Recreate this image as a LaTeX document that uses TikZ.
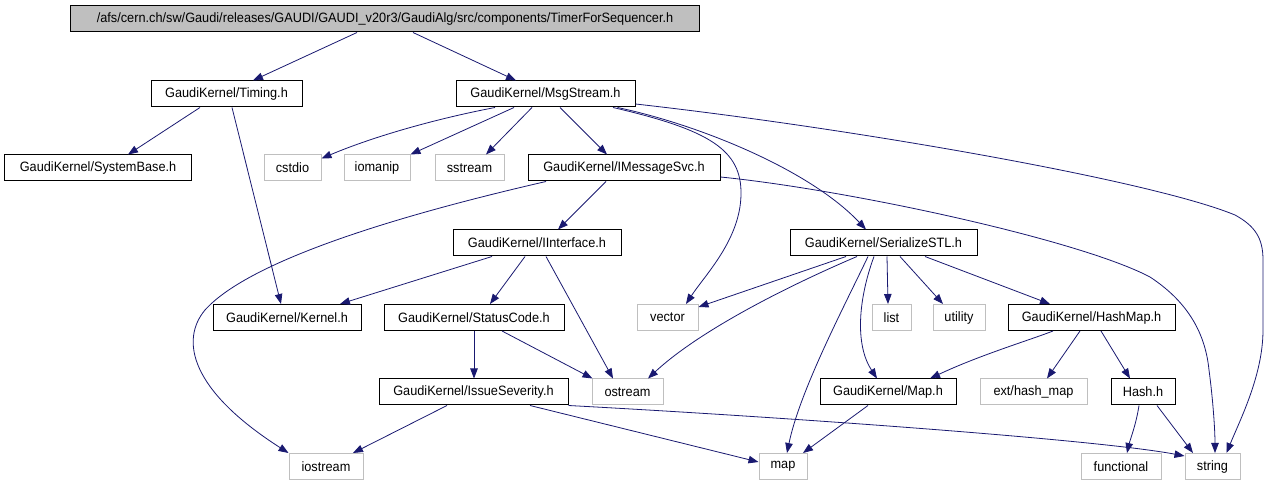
\documentclass[tikz,border=0pt]{standalone}
\usepackage{fontspec}
\setmainfont{Liberation Sans}[FakeStretch=0.94]
\usepackage{tikz}
\usetikzlibrary{arrows.meta}

\definecolor{edgeblue}{HTML}{191970}
\definecolor{sysgray}{HTML}{BFBFBF}

\begin{document}
\begin{tikzpicture}[x=1bp, y=-1bp,
        hdr/.style={draw=black, line width=1bp, minimum height=26bp, inner sep=0pt, font=\fontsize{13.6}{15}\selectfont},
        sys/.style={hdr, draw=sysgray},
        dep/.style={draw=edgeblue, line width=0.8bp, -{Triangle[length=10bp,width=7.5bp]}}]
        \useasboundingbox (0,0) rectangle (1268,485);

        % Headers
        \node[hdr, fill=sysgray, minimum width=628bp] (root) at (385,19) {/afs/cern.ch/sw/Gaudi/releases/GAUDI/GAUDI\_v20r3/GaudiAlg/src/components/TimerForSequencer.h};
        \node[hdr, minimum width=151bp] (timing) at (226.5,94) {GaudiKernel/Timing.h};
        \node[hdr, minimum width=179bp] (msg) at (545.5,94) {GaudiKernel/MsgStream.h};
        \node[hdr, minimum width=186bp] (sysbase) at (98,168) {GaudiKernel/SystemBase.h};
        \node[sys, minimum width=57bp] (cstdio) at (292.5,168) {cstdio};
        \node[sys, minimum width=66bp] (iomanip) at (377,168) {iomanip};
        \node[sys, minimum width=69bp] (sstream) at (469.5,168) {sstream};
        \node[hdr, minimum width=192bp] (imsg) at (624,168) {GaudiKernel/IMessageSvc.h};
        \node[hdr, minimum width=168bp] (iiface) at (537,243) {GaudiKernel/IInterface.h};
        \node[hdr, minimum width=187bp] (sstl) at (883.5,243) {GaudiKernel/SerializeSTL.h};
        \node[hdr, minimum width=148bp] (kernel) at (287,317.5) {GaudiKernel/Kernel.h};
        \node[hdr, minimum width=180bp] (status) at (474,317.5) {GaudiKernel/StatusCode.h};
        \node[sys, minimum width=61bp] (vector) at (667.5,317.5) {vector};
        \node[sys, minimum width=39bp] (list) at (891.5,317.5) {list};
        \node[sys, minimum width=52bp] (utility) at (959,317.5) {utility};
        \node[hdr, minimum width=167bp] (hashmap) at (1091.5,317.5) {GaudiKernel/HashMap.h};
        \node[hdr, minimum width=189bp] (issue) at (473.5,392) {GaudiKernel/IssueSeverity.h};
        \node[sys, minimum width=71bp] (ostream) at (627.5,392) {ostream};
        \node[hdr, minimum width=136bp] (maph) at (888,392) {GaudiKernel/Map.h};
        \node[sys, minimum width=107bp] (exthash) at (1033.5,392) {ext/hash\_map};
        \node[hdr, minimum width=64bp] (hashh) at (1143,392) {Hash.h};
        \node[sys, minimum width=74bp] (iostream) at (326,466.5) {iostream};
        \node[sys, minimum width=48bp] (map) at (783,466.5) {map};
        \node[sys, minimum width=80bp] (functional) at (1121,466.5) {functional};
        \node[sys, minimum width=55bp] (string) at (1212.5,466.5) {string};

        % Top level
        \draw[dep] ([xshift=-28bp]root.south) -- ([xshift=26.5bp]timing.north);
        \draw[dep] ([xshift=28bp]root.south) -- ([xshift=-29.5bp]msg.north);
        \draw[dep] ([xshift=-26.5bp]timing.south) -- ([xshift=30bp]sysbase.north);
        \draw[dep] ([xshift=5.5bp]timing.south) -- ([xshift=-6bp]kernel.north);

        % MsgStream
        \draw[dep] ([xshift=-50.5bp]msg.south) .. controls (430,120) and (370,138) .. ([yshift=-4bp]cstdio.north east);
        \draw[dep] ([xshift=-31.5bp]msg.south) -- (iomanip.north east);
        \draw[dep] ([xshift=-13.5bp]msg.south) -- ([xshift=16.5bp]sstream.north);
        \draw[dep] ([xshift=14.5bp]msg.south) -- ([xshift=-17bp]imsg.north);
        \draw[dep] ([xshift=67.5bp]msg.south) .. controls (710,130) and (742,150) .. (741,195)
            .. controls (740,240) and (705,275) .. ([xshift=18.5bp]vector.north);
        \draw[dep] ([xshift=72bp]msg.south) .. controls (700,125) and (810,170) .. ([xshift=-17.5bp]sstl.north);
        \draw[dep] ([yshift=-10bp]msg.east) .. controls (850,128) and (1150,180) .. (1235,215)
            .. controls (1255,226) and (1263,238) .. (1263,260) -- (1263,330)
            .. controls (1263,375) and (1240,420) .. ([xshift=14bp]string.north);

        % IMessageSvc
        \draw[dep] ([xshift=-18bp]imsg.south) -- ([xshift=21bp]iiface.north);
        \draw[dep] ([xshift=-78bp]imsg.south) .. controls (400,215) and (250,260) .. (205,310)
            .. controls (180,340) and (190,390) .. (iostream.north west);
        \draw[dep] ([yshift=-9bp]imsg.east) .. controls (850,190) and (1080,240) .. (1150,277)
            .. controls (1185,300) and (1205,330) .. (1209,370)
            .. controls (1213,400) and (1215,430) .. ([xshift=2.5bp]string.north);

        % IInterface, StatusCode, IssueSeverity
        \draw[dep] ([xshift=-45bp]iiface.south) -- ([xshift=53bp]kernel.north);
        \draw[dep] ([xshift=-12bp]iiface.south) -- ([xshift=16bp]status.north);
        \draw[dep] ([xshift=9bp]iiface.south) -- ([xshift=-14.5bp]ostream.north);
        \draw[dep] (status.south) -- (status.south |- issue.north);
        \draw[dep] ([xshift=28bp]status.south) -- ([xshift=1bp]ostream.north west);
        \draw[dep] ([xshift=-26.5bp]issue.south) -- ([xshift=27bp]iostream.north);
        \draw[dep] ([xshift=56.5bp]issue.south) -- ([yshift=-9bp]map.north west);
        \draw[dep] (issue.south east) .. controls (800,418) and (1100,440) .. ([yshift=-3bp]string.north west);

        % SerializeSTL
        \draw[dep] ([xshift=-37.5bp]sstl.south) -- ([yshift=-3bp]vector.north east);
        \draw[dep] ([xshift=-26.5bp]sstl.south) .. controls (790,285) and (700,330) .. ([xshift=20.5bp]ostream.north);
        \draw[dep] ([xshift=-15.5bp]sstl.south) .. controls (845,305) and (800,390) .. ([xshift=4bp]map.north);
        \draw[dep] ([xshift=-9.5bp]sstl.south) .. controls (858,300) and (855,345) .. ([xshift=-11bp]maph.north);
        \draw[dep] ([xshift=3.5bp]sstl.south) -- ([xshift=-3.5bp]list.north);
        \draw[dep] ([xshift=16.5bp]sstl.south) -- ([xshift=-16bp]utility.north);
        \draw[dep] ([xshift=41.5bp]sstl.south) -- ([xshift=-41.5bp]hashmap.north);

        % HashMap, Hash, Map
        \draw[dep] ([xshift=-38.5bp]hashmap.south) .. controls (1030,340) and (980,355) .. ([xshift=42bp]maph.north);
        \draw[dep] ([xshift=-11.5bp]hashmap.south) -- ([xshift=13.5bp]exthash.north);
        \draw[dep] ([xshift=9.5bp]hashmap.south) -- ([xshift=-13bp]hashh.north);
        \draw[dep] ([xshift=-4bp]hashh.south) .. controls (1136,425) and (1130,440) .. ([xshift=6bp]functional.north);
        \draw[dep] ([xshift=14bp]hashh.south) -- ([xshift=-19.5bp]string.north);
        \draw[dep] ([xshift=-20bp]maph.south) -- ([xshift=20bp]map.north);
\end{tikzpicture}
\end{document}
